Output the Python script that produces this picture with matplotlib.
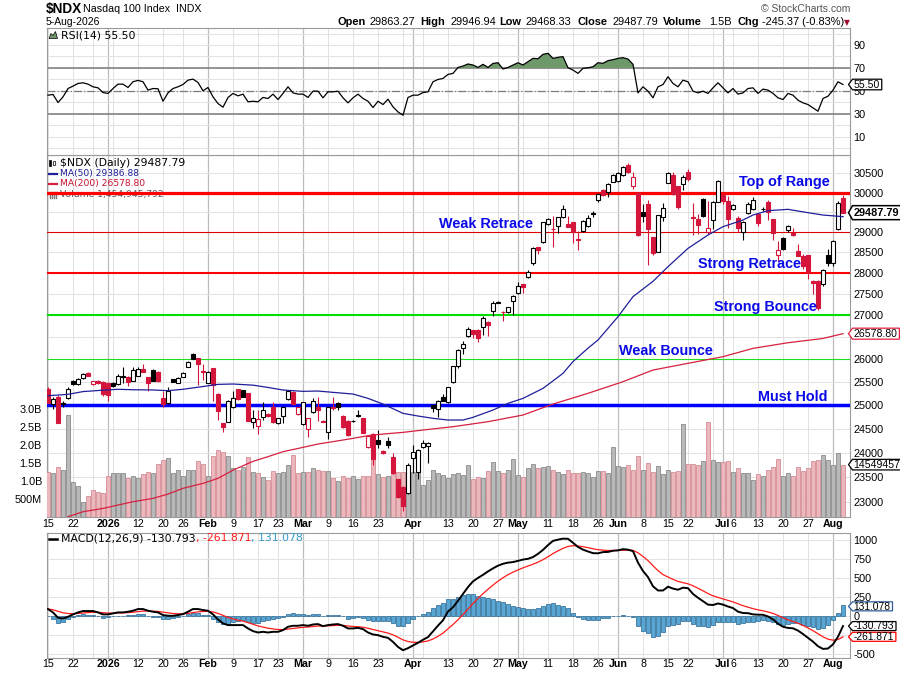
import numpy as np
import pandas as pd
import matplotlib
matplotlib.use("Agg")
import matplotlib.pyplot as plt
from matplotlib.patches import Rectangle, Polygon
from matplotlib.lines import Line2D
from matplotlib.ticker import FixedLocator, NullLocator, FixedFormatter

plt.rcParams['font.family'] = ['Liberation Sans', 'DejaVu Sans']
plt.rcParams['axes.unicode_minus'] = False

# ---------------------------------------------------------------- data
holidays = ["2025-12-25", "2026-01-01", "2026-01-19", "2026-02-16",
            "2026-04-03", "2026-05-25", "2026-06-19", "2026-07-03"]
dates = pd.bdate_range("2025-12-15", "2026-08-05")
dates = dates[~dates.isin(pd.to_datetime(holidays))]

opens = [25339, 25021, 25179, 25050, 25143, 25520, 25447, 25579, 25703, 25447,
         25525, 25506, 25484, 25484, 25447, 25615, 25615, 25528, 25630, 25785,
         25600, 25762, 25726, 25158, 25036, 25557, 25484, 25615, 25836, 26119,
         26029, 25740, 25484, 25799, 25237, 24610, 24645, 24950, 25339, 25324,
         25252, 24645, 24560, 24737, 24808, 24950, 24620, 24765, 25122, 25288,
         24801, 24589, 24490, 24843, 24964, 24666, 24420, 24964, 25050, 24765,
         24666, 24670, 24780, 24716, 24108, 24378, 24260, 24039, 24239, 23916,
         23461, 23308, 23188, 23882, 23610, 24122, 24140, 25000, 24907, 25165,
         25057, 25506, 25858, 26246, 26533, 26662, 26662, 26723, 26838, 27094,
         27296, 27080, 27070, 27327, 27515, 27729, 27896, 28232, 28622, 28762,
         29193, 29080, 29160, 29369, 29193, 29243, 28820, 29035, 29150, 29470,
         29800, 30060, 30026, 30284, 30300, 30456, 30714, 30172, 30000, 29500,
         29720, 28875, 28520, 29374, 30258, 30456, 30172, 30232, 30542, 29390,
         29320, 29830, 29010, 29305, 29763, 29932, 29788, 29576, 29365, 29000,
         29475, 29576, 29450, 29590, 29763, 29322, 28426, 28860, 29041, 28984,
         28533, 28410, 28426, 27806, 27806, 27730, 28426, 28246, 29082, 29863.27]
highs = [25382, 25179, 25215, 25093, 25397, 25540, 25590, 25690, 25710, 25530,
         25540, 25520, 25500, 25500, 25682, 25821, 25620, 25821, 25836, 25888,
         25615, 25780, 25740, 25309, 25382, 25570, 25610, 25720, 25960, 26140,
         26040, 25900, 25740, 25810, 25250, 24620, 25110, 25309, 25350, 25330,
         25260, 24893, 24893, 25057, 24830, 25072, 24730, 24960, 25330, 25300,
         24960, 25070, 24730, 25158, 25179, 24680, 24964, 25179, 25070, 24780,
         24680, 24680, 24893, 24730, 24360, 24400, 24469, 24050, 24316, 23990,
         23470, 23320, 23780, 24156, 24070, 24260, 24220, 25030, 25100, 25237,
         25390, 25860, 26230, 26420, 26730, 26670, 26680, 26985, 26880, 27330,
         27330, 27090, 27200, 27470, 27780, 27740, 28072, 28620, 28640, 29260,
         29360, 29411, 29380, 29683, 29400, 29260, 29035, 29300, 29420, 29530,
         30000, 30100, 30250, 30470, 30540, 30690, 30775, 30542, 30010, 29700,
         29800, 28890, 29440, 29740, 30540, 30540, 30180, 30456, 30610, 29740,
         29450, 29870, 29790, 29790, 30330, 30000, 29900, 29700, 29400, 29290,
         29763, 29880, 29460, 29620, 29800, 29330, 28780, 28880, 29170, 29100,
         28700, 28450, 28440, 27820, 27820, 28100, 28580, 28810, 29780, 29946.94]
lows = [25036, 24907, 24610, 24950, 25130, 25430, 25430, 25560, 25620, 25440,
        25450, 25194, 25086, 25380, 25430, 25469, 25411, 25510, 25620, 25710,
        25310, 25510, 25500, 24964, 25020, 25490, 25470, 25600, 25820, 26000,
        25433, 25540, 25470, 25093, 24680, 24434, 24630, 24940, 25100, 25170,
        24650, 24504, 24378, 24680, 24750, 24620, 24600, 24610, 25100, 25000,
        24780, 24570, 24316, 24830, 24666, 24630, 24274, 24893, 24893, 24510,
        24340, 24640, 24750, 24400, 24090, 23745, 24087, 23970, 24087, 23560,
        23090, 22826, 23170, 23576, 23460, 24100, 23779, 24850, 24752, 25080,
        25050, 25480, 25800, 26119, 26500, 26480, 26400, 26550, 26533, 26985,
        27280, 26877, 27060, 27000, 27500, 27515, 27880, 28200, 28451, 28740,
        29170, 28622, 28968, 29360, 29120, 28737, 28557, 29000, 29130, 29390,
        29760, 29900, 29880, 30270, 30280, 30440, 30520, 30086, 28900, 29240,
        28200, 28440, 28500, 29270, 30250, 29940, 29590, 30060, 30300, 28940,
        28960, 29390, 28950, 29070, 29750, 29700, 29100, 29550, 29000, 28800,
        29460, 29560, 29140, 29540, 29300, 28800, 28300, 28560, 29000, 28900,
        28400, 28100, 27845, 27500, 27130, 27690, 28180, 28170, 29060, 29468.33]
closes = [25050, 25122, 24624, 25021, 25339, 25447, 25571, 25667, 25637, 25520,
          25480, 25237, 25215, 25411, 25637, 25640, 25506, 25762, 25785, 25726,
          25469, 25528, 25520, 25021, 25309, 25506, 25594, 25703, 25932, 26015,
          25888, 25720, 25726, 25433, 24879, 24539, 25093, 25143, 25122, 25179,
          24666, 24716, 24701, 24893, 24765, 24631, 24716, 24950, 25309, 25021,
          24950, 25057, 24716, 25086, 24893, 24645, 24950, 24930, 24960, 24525,
          24365, 24659, 24772, 24413, 24351, 23861, 24170, 23984, 24156, 23576,
          23109, 22931, 23745, 24005, 24060, 24191, 24200, 24929, 25086, 25093,
          25382, 25851, 26209, 26344, 26677, 26571, 26472, 26946, 26777, 27296,
          27310, 27070, 27187, 27452, 27697, 27657, 28016, 28598, 28557, 29243,
          29318, 29068, 29369, 29580, 29135, 28993, 28803, 29285, 29345, 29460,
          29975, 29950, 30215, 30456, 30516, 30662, 30542, 30404, 28940, 29415,
          29065, 28488, 29420, 29610, 30516, 29957, 29634, 30404, 30344, 29350,
          29180, 29407, 29110, 29763, 30300, 29788, 29322, 29678, 29110, 29246,
          29703, 29814, 29238, 29576, 29510, 28984, 28570, 28580, 29150, 28926,
          28410, 28164, 28016, 27752, 27163, 28065, 28246, 28780, 29729, 29487.79]
volume_b = [1.26, 1.23, 1.40, 1.31, 2.83, 0.96, 0.87, 0.41, 0.59, 0.75,
            0.70, 0.66, 1.15, 1.21, 1.21, 1.21, 1.07, 1.15, 1.09, 1.19,
            1.26, 1.21, 1.46, 1.58, 1.63, 1.23, 1.32, 1.15, 1.32, 1.31,
            1.56, 1.46, 1.15, 1.70, 1.86, 1.80, 1.69, 1.35, 1.32, 1.40,
            1.66, 1.26, 1.21, 1.12, 1.03, 1.29, 1.23, 1.26, 1.44, 1.72,
            1.21, 1.26, 1.26, 1.37, 1.32, 1.29, 1.29, 1.07, 1.00, 1.14,
            1.07, 1.15, 1.06, 1.15, 1.15, 2.30, 1.19, 1.12, 1.15, 1.19,
            1.26, 1.26, 1.44, 1.26, 1.30, 0.89, 1.03, 1.32, 1.21, 1.17,
            1.07, 1.19, 1.21, 1.17, 1.44, 1.06, 1.12, 1.07, 1.28, 1.52,
            1.28, 1.21, 1.31, 1.61, 1.17, 1.12, 1.35, 1.46, 1.37, 1.40,
            1.42, 1.32, 1.26, 1.19, 1.32, 1.21, 1.21, 1.24, 1.21, 1.10,
            1.28, 1.28, 1.21, 1.95, 1.42, 1.40, 1.44, 1.32, 1.69, 1.31,
            1.49, 1.24, 1.42, 1.19, 1.32, 1.26, 1.28, 2.58, 1.47, 1.47,
            1.44, 1.56, 2.65, 1.58, 1.52, 1.54, 1.56, 1.24, 1.37, 1.21,
            1.21, 1.03, 1.19, 1.15, 1.32, 1.40, 1.61, 1.15, 1.21, 1.15,
            1.40, 1.28, 1.37, 1.56, 1.58, 1.72, 1.58, 1.44, 1.77, 1.455]
rsi = [46.2, 46.8, 39.8, 44.7, 52.0, 54.1, 56.4, 57.0, 55.8, 53.5,
       52.6, 48.5, 47.7, 52.0, 55.8, 55.8, 52.9, 57.9, 59.1, 57.9,
       50.6, 52.0, 51.8, 40.9, 48.2, 52.0, 53.5, 55.5, 59.3, 60.2,
       57.3, 50.0, 52.9, 44.7, 38.9, 35.7, 44.2, 47.7, 45.6, 47.1,
       40.4, 40.9, 40.4, 44.2, 43.3, 47.1, 42.4, 47.7, 53.5, 48.2,
       47.1, 47.1, 44.2, 49.7, 49.7, 43.9, 49.1, 49.1, 49.7, 43.9,
       39.5, 43.9, 47.1, 43.3, 40.9, 35.4, 40.9, 38.0, 42.7, 36.0,
       31.6, 28.7, 44.2, 46.2, 46.2, 48.5, 49.1, 57.9, 59.9, 60.8,
       64.3, 65.2, 70.4, 71.6, 73.4, 72.5, 70.4, 73.1, 70.4, 73.9,
       74.5, 69.0, 70.4, 72.5, 74.5, 72.5, 75.4, 78.3, 78.0, 81.8,
       82.7, 78.3, 79.2, 79.8, 70.1, 68.1, 65.2, 69.6, 70.1, 71.0,
       74.5, 74.0, 76.3, 77.2, 78.3, 78.9, 77.7, 73.1, 48.2, 53.5,
       49.7, 43.9, 53.5, 55.5, 62.3, 56.4, 53.5, 59.3, 57.9, 49.7,
       48.2, 49.7, 47.7, 52.6, 57.0, 52.6, 48.2, 52.0, 47.1, 48.2,
       52.0, 52.6, 47.7, 51.5, 50.6, 47.7, 43.9, 42.4, 47.7, 46.2,
       41.8, 39.5, 38.0, 35.1, 32.2, 43.3, 45.3, 50.6, 57.9, 55.5]
macd = [92, 48, -22, -31, -9, 22, 48, 66, 66, 66,
        48, 22, 22, 35, 48, 48, 57, 70, 92, 92,
        70, 57, 48, 13, 4, 4, 13, 26, 57, 92,
        92, 79, 70, 22, -44, -96, -118, -118, -118, -118,
        -162, -197, -215, -206, -215, -206, -206, -184, -140, -127,
        -127, -118, -127, -110, -105, -132, -118, -110, -105, -127,
        -162, -162, -154, -171, -215, -241, -250, -272, -285, -338,
        -404, -447, -420, -385, -350, -310, -275, -200, -125, -55,
        60, 115, 200, 290, 380, 455, 500, 540, 585, 625,
        660, 685, 700, 707, 724, 740, 750, 773, 815, 867,
        930, 985, 1001, 1014, 1012, 960, 905, 870, 846, 824,
        822, 838, 840, 856, 861, 876, 870, 850, 700, 590,
        510, 390, 335, 335, 385, 360, 345, 372, 365, 290,
        240, 195, 150, 145, 165, 150, 125, 105, 58, 40,
        38, 22, 18, 17, -5, -43, -100, -140, -155, -160,
        -190, -235, -285, -335, -395, -430, -425, -370, -270, -130.793]
ma50_day = [0, 4, 7, 11, 14, 17, 21, 24, 27, 31, 34, 37, 41, 44, 47, 51, 54, 57,
            61, 64, 67, 71, 74, 77, 80, 83, 85, 89, 92, 95, 99, 103, 105, 108,
            110, 114, 117, 121, 124, 128, 132, 135, 139, 141, 144, 148, 152, 155, 159]
ma50 = [25200, 25230, 25290, 25320, 25340, 25330, 25325, 25310, 25340, 25400,
        25447, 25455, 25430, 25380, 25324, 25295, 25302, 25273, 25237, 25143,
        25021, 24822, 24765, 24716, 24680, 24680, 24737, 24893, 25036, 25143,
        25360, 25689, 25950, 26250, 26435, 26969, 27437, 27800, 28152, 28598,
        28928, 29135, 29302, 29428, 29538, 29572, 29487, 29428, 29386.88]
ma200_day = [4, 7, 11, 14, 17, 21, 24, 27, 31, 34, 37, 41, 44, 47, 51, 54, 57, 61,
             64, 67, 71, 75, 81, 88, 95, 101, 108, 115, 121, 128, 135, 141, 148, 155, 159]
ma200 = [22715, 22812, 22877, 22943, 23009, 23075, 23161, 23275, 23374, 23475,
         23640, 23820, 23916, 24018, 24108, 24177, 24226, 24295, 24351, 24385,
         24420, 24469, 24539, 24645, 24786, 25021, 25252, 25506, 25762, 25911,
         26059, 26246, 26373, 26470, 26578.80]
levels = [30000, 29000, 28000, 27000, 26000, 25000]
notes = ["Top of Range", "Weak Retrace", "Strong Retrace", "Strong Bounce",
         "Weak Bounce", "Must Hold"]
price_ticks = list(range(23000, 31000, 500))
vol_ticks = [0.5, 1.0, 1.5, 2.0, 2.5, 3.0]
vol_labels = ["500M", "1.0B", "1.5B", "2.0B", "2.5B", "3.0B"]
rsi_ticks = [10, 30, 50, 70, 90]
macd_ticks = [-500, 0, 250, 500, 750, 1000]
xlabel_dates = ["2025-12-15", "2025-12-22", "2026-01-02", "2026-01-12", "2026-01-20",
                "2026-01-26", "2026-02-02", "2026-02-09", "2026-02-17", "2026-02-23",
                "2026-03-02", "2026-03-09", "2026-03-16", "2026-03-23", "2026-04-01",
                "2026-04-13", "2026-04-20", "2026-04-27", "2026-05-01", "2026-05-11",
                "2026-05-18", "2026-05-26", "2026-06-01", "2026-06-08", "2026-06-15",
                "2026-06-22", "2026-07-01", "2026-07-06", "2026-07-13", "2026-07-20",
                "2026-07-27", "2026-08-03"]
xlabel_text = ["15", "22", "2026", "12", "20", "26", "Feb", "9", "17", "23", "Mar", "9",
               "16", "23", "Apr", "13", "20", "27", "May", "11", "18", "26", "Jun", "8",
               "15", "22", "Jul", "6", "13", "20", "27", "Aug"]

# ---------------------------------------------------------------- styles / layout
level_colors = ['#ff0000', '#dd0000', '#ff0000', '#00dd00', '#22dd22', '#0000ff']
level_widths = [2.3, 0.8, 1.5, 1.5, 0.8, 2.5]
note_xy = [(784, 182), (486, 224), (750, 264), (765, 307.5), (666, 351), (793, 397)]
UPC, DNC = 'black', '#d4163c'

W, H = 900, 673
fig = plt.figure(figsize=(9, 6.73), dpi=100)
fig.patch.set_facecolor('white')
renderer = fig.canvas.get_renderer()


def P(x, y):
    return (x / W, 1 - y / H)


def rect(l, t, r, b):
    return [l / W, 1 - b / H, (r - l) / W, (b - t) / H]


L, R = 47, 850
ax_p = fig.add_axes(rect(L, 155, R, 517))
ax_p.set_yscale('log')
ax_v = fig.add_axes(rect(L, 155, R, 517), sharex=ax_p)
ax_t = fig.add_axes(rect(L, 155, R, 517), sharex=ax_p, sharey=ax_p)
ax_r = fig.add_axes(rect(L, 28, R, 155), sharex=ax_p)
ax_m = fig.add_axes(rect(L, 533, R, 658), sharex=ax_p)

n = len(dates)
x = np.arange(n)
o = np.array(opens, float); h = np.array(highs, float)
lo = np.array(lows, float); c = np.array(closes, float)
prev = np.concatenate([[o[0]], c[:-1]])
up = c > prev
vol = np.array(volume_b)
rsi_a = np.array(rsi)
macd_a = np.array(macd, float)
signal = pd.Series(macd_a).ewm(span=9, adjust=False).mean().to_numpy()
hist = macd_a - signal

ax_p.set_xlim(-0.2, n + 0.4)
ax_p.set_ylim(22709, 30984)
ax_v.set_ylim(0, 10.06)
ax_r.set_ylim(-6, 104.8)
ax_m.set_ylim(-549, 1088)

wk = [i for i in range(n) if i == 0 or dates[i].isocalendar()[1] != dates[i - 1].isocalendar()[1]]
mo = [i for i in range(1, n) if dates[i].month != dates[i - 1].month]


def vgrid(ax):
    for i in wk:
        if i not in mo:
            ax.axvline(i, color='#e2e2e2', lw=0.7, zorder=0)
    for i in mo:
        ax.axvline(i, color='#bdbdbd', lw=0.9, zorder=0)


for ax in (ax_p, ax_r, ax_m):
    vgrid(ax)
    for s in ax.spines.values():
        s.set_color('#9a9a9a'); s.set_linewidth(0.8)
    ax.tick_params(axis='x', bottom=False, labelbottom=False)
    ax.yaxis.tick_right()
    ax.tick_params(axis='y', length=0, pad=2.4, labelsize=7.8)
    ax.yaxis.set_minor_locator(NullLocator())

for ax in (ax_v, ax_t):
    ax.patch.set_visible(False)
    for s in ax.spines.values():
        s.set_visible(False)
    ax.tick_params(axis='x', bottom=False, labelbottom=False)
ax_t.tick_params(axis='y', left=False, right=False, labelleft=False, labelright=False,
                 which='both')

# ---------------- price panel
for t in price_ticks:
    ax_p.axhline(t, color='#e2e2e2', lw=0.7, zorder=0)
ax_p.yaxis.set_major_locator(FixedLocator(price_ticks))
ax_p.yaxis.set_minor_locator(NullLocator())
ax_p.yaxis.set_major_formatter(FixedFormatter(
    [str(t) if t not in (26500, 29500) else '' for t in price_ticks]))

ax_v.bar(x, vol, width=0.84, color=np.where(up, '#b9b9b9', '#ebb8bd'),
         edgecolor=np.where(up, '#8c8c8c', '#d68b95'), lw=0.6, zorder=1)
ax_v.yaxis.tick_left()
ax_v.set_yticks(vol_ticks)
ax_v.set_yticklabels(vol_labels)
ax_v.tick_params(axis='y', length=0, pad=3.5, labelsize=7.8, right=False, labelright=False)

for lv, lc, lw_ in zip(levels, level_colors, level_widths):
    ax_t.axhline(lv, color=lc, lw=lw_, zorder=2)

for i in range(n):
    col = UPC if up[i] else DNC
    ax_t.vlines(i, lo[i], h[i], color=col, lw=0.8, zorder=3)
    b0, b1 = min(o[i], c[i]), max(o[i], c[i])
    if b1 - b0 < 6:
        b1 = b0 + 6
    fc = col if c[i] < o[i] else 'white'
    ax_t.add_patch(Rectangle((i - 0.37, b0), 0.74, b1 - b0, facecolor=fc,
                             edgecolor=col, lw=0.8, zorder=4))

ax_t.plot(ma50_day, ma50, color='#1f1f9a', lw=0.9, zorder=5)
ax_t.plot(ma200_day, ma200, color='#d6203f', lw=0.9, zorder=5)

# ---------------- RSI panel
for t in range(0, 101, 10):
    ax_r.axhline(t, color='#e2e2e2', lw=0.7, zorder=0)
ax_r.axhline(70, color='#7a7a7a', lw=1.1, zorder=1)
ax_r.axhline(30, color='#7a7a7a', lw=1.1, zorder=1)
ax_r.axhline(50, color='#7a7a7a', lw=0.9, ls='-.', zorder=1)
ax_r.fill_between(x, rsi_a, 70, where=rsi_a >= 70, interpolate=True,
                  color='#6e9a6b', zorder=2, lw=0)
ax_r.fill_between(x, rsi_a, 30, where=rsi_a <= 30, interpolate=True,
                  color='#6e9a6b', zorder=2, lw=0)
ax_r.plot(x, rsi_a, color='black', lw=0.9, zorder=3)
ax_r.set_yticks(rsi_ticks)

# ---------------- MACD panel
for t in range(-500, 1001, 250):
    ax_m.axhline(t, color='#e2e2e2', lw=0.7, zorder=0)
ax_m.bar(x, hist, width=0.84, color='#58a6d4', edgecolor='#25648f', lw=0.5, zorder=2)
ax_m.plot(x, signal, color='#ff1a1a', lw=0.9, zorder=3)
ax_m.plot(x, macd_a, color='black', lw=1.4, zorder=4)
ax_m.set_yticks(macd_ticks)


def xlabels(ax, dy):
    hpx = ax.get_position().height * H
    for d, s in zip(xlabel_dates, xlabel_text):
        i = int(np.where(dates == pd.Timestamp(d))[0][0])
        bold = (not s.isdigit()) or s == '2026'
        ax.text(i, -dy / hpx, s, transform=ax.get_xaxis_transform(), ha='center',
                va='center', fontsize=7.7, fontweight='bold' if bold else 'normal',
                clip_on=False)


xlabels(ax_p, 6.8)
xlabels(ax_m, 6.0)

for s, (px, py) in zip(notes, note_xy):
    fig.text(*P(px, py), s, ha='center', va='center', fontsize=10.4,
             fontweight='bold', color='#0a0ae8', zorder=10)


# ---------------- right-side value tags
def tag(ax, yval, label, ec, lw=0.9, hh=5.0, fs=7.6, weight='normal', dy=0.0):
    ydisp = ax.transData.transform((0, yval))[1]
    ypx = H - ydisp + dy
    t = fig.text(*P(853.5, ypx + 0.3), label, fontsize=fs, va='center', ha='left',
                 color='black', fontweight=weight, zorder=21)
    wpx = t.get_window_extent(renderer).width
    xr = 853.5 + wpx + 2
    pts = [P(848.5, ypx), P(852.5, ypx - hh), P(xr, ypx - hh), P(xr, ypx + hh),
           P(852.5, ypx + hh)]
    fig.add_artist(Polygon(pts, closed=True, transform=fig.transFigure, facecolor='white',
                           edgecolor=ec, lw=lw, zorder=20))


tag(ax_t, c[-1], "29487.79", 'black', 1.1, hh=7.0, fs=7.8, weight='bold')
tag(ax_t, ma200[-1], "26578.80", '#e0203f', hh=5.5)
tag(ax_v, vol[-1], "1454945792", 'black', hh=5.3)
tag(ax_r, rsi_a[-1], "55.50", 'black', hh=5.3)
tag(ax_m, hist[-1], "131.078", '#2b5d9b', hh=4.5, fs=7.4, dy=1.0)
tag(ax_m, macd_a[-1], "-130.793", 'black', hh=4.5, fs=7.4)
tag(ax_m, signal[-1], "-261.871", '#ff0000', hh=4.5, fs=7.4)

# ---------------- header
fig.text(*P(46, 9.5), "$NDX", fontsize=9.8, fontweight='bold', va='center')
fig.text(*P(83, 9.5), "Nasdaq 100 Index", fontsize=7.7, va='center')
fig.text(*P(176, 9.5), "INDX", fontsize=7.7, va='center')
fig.text(*P(46, 22), "5-Aug-2026", fontsize=7.5, va='center')
fig.text(*P(850, 9), "\u00a9 StockCharts.com", fontsize=7.5, va='center', ha='right',
         color='#555555')
hdr = [("Open", 337.7, True), ("29863.27", 369, False), ("High", 420.7, True),
       ("29946.94", 450.5, False), ("Low", 499, True), ("29468.33", 526, False),
       ("Close", 577.3, True), ("29487.79", 612.3, False), ("Volume", 663.3, True),
       ("1.5B", 709.3, False), ("Chg", 737.3, True), ("-245.37 (-0.83%)", 761.7, False)]
for s, hx, b in hdr:
    fig.text(*P(hx, 22), s, fontsize=7.9, fontweight='bold' if b else 'normal', va='center')
fig.text(*P(846.5, 22.5), "\u25bc", fontsize=5.5, color='#a0102c', va='center', ha='center',
         family='DejaVu Sans')

# ---------------- panel legends
LF = 'DejaVu Sans'
fig.add_artist(Polygon([P(49, 38.5), P(51, 33.5), P(53, 35.5), P(55.5, 31.5), P(57.5, 38.5)],
                       closed=True, transform=fig.transFigure, facecolor='#6e9a6b',
                       edgecolor='black', lw=0.5, zorder=5))
fig.text(*P(61, 35), "RSI(14) 55.50", fontsize=7.8, family=LF, va='center')

ax_p.text(*P(60, 162.5), "$NDX (Daily) 29487.79", fontsize=7.8, family=LF, va='center',
          transform=fig.transFigure, zorder=6)
for bx, by0, by1, fc in [(50, 159.5, 165.5, 'black'), (53.5, 160.5, 164.5, 'white')]:
    ax_p.add_patch(Rectangle(P(bx - 1, by1), 2 / W, (by1 - by0) / H, transform=fig.transFigure,
                             facecolor=fc, edgecolor='black', lw=0.5, zorder=6, clip_on=False))
ax_p.add_line(Line2D([49 / W, 57 / W], [1 - 173.5 / H] * 2, transform=fig.transFigure,
                     color='#1f1f9a', lw=1.6, zorder=6, clip_on=False))
ax_p.text(*P(60, 173.5), "MA(50) 29386.88", fontsize=6.6, family=LF, va='center',
          color='#1f1f9a', transform=fig.transFigure, zorder=6)
ax_p.add_line(Line2D([49 / W, 57 / W], [1 - 184 / H] * 2, transform=fig.transFigure,
                     color='#d6203f', lw=1.6, zorder=6, clip_on=False))
ax_p.text(*P(60, 184), "MA(200) 26578.80", fontsize=6.6, family=LF, va='center',
          color='#c8102e', transform=fig.transFigure, zorder=6)
for k in range(4):
    ax_p.add_line(Line2D([(49.5 + 2 * k) / W] * 2, [1 - 197.5 / H, 1 - 192 / H],
                         transform=fig.transFigure, color='#777777', lw=1.0, zorder=6,
                         clip_on=False))
ax_p.text(*P(60, 194.8), "Volume 1,454,945,792", fontsize=6.6, family=LF, va='center',
          color='#555555', transform=fig.transFigure, zorder=6)

fig.add_artist(Line2D([49 / W, 57 / W], [1 - 538.5 / H] * 2, transform=fig.transFigure,
                      color='black', lw=1.8, zorder=5))
xx = 61.0
for s, colr in [("MACD(12,26,9) -130.793", 'black'), (", -261.871", '#ff1a1a'),
                (", 131.078", '#3399cc')]:
    t = fig.text(*P(xx, 538.5), s, fontsize=7.8, family=LF, va='center', color=colr)
    xx += t.get_window_extent(renderer).width

fig.savefig("out.png", dpi=100, facecolor='white')
